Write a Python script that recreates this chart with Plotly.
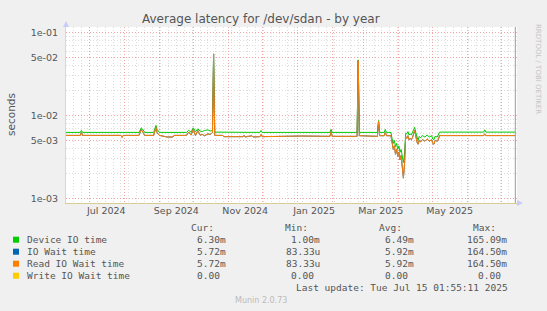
import plotly.graph_objects as go

# ---------------- data ----------------
device_dates = [
    "2024-06-10", "2024-06-23", "2024-06-24", "2024-06-25", "2024-08-14", "2024-08-16",
    "2024-08-17", "2024-08-19", "2024-08-27", "2024-08-29", "2024-08-30", "2024-09-01",
    "2024-09-25", "2024-09-27", "2024-09-29", "2024-10-01", "2024-10-03", "2024-10-05",
    "2024-10-07", "2024-10-09", "2024-10-11", "2024-10-14", "2024-10-16", "2024-10-18",
    "2024-10-19", "2024-10-20", "2024-11-29", "2024-11-30", "2024-12-01", "2025-01-30",
    "2025-01-31", "2025-02-01", "2025-02-23", "2025-02-24", "2025-02-25", "2025-03-13",
    "2025-03-14", "2025-03-15", "2025-03-19", "2025-03-20", "2025-03-21", "2025-03-25",
    "2025-03-26", "2025-03-27", "2025-03-28", "2025-03-29", "2025-03-30", "2025-03-31",
    "2025-04-01", "2025-04-02", "2025-04-03", "2025-04-04", "2025-04-05", "2025-04-06",
    "2025-04-07", "2025-04-08", "2025-04-09", "2025-04-10", "2025-04-11", "2025-04-12",
    "2025-04-13", "2025-04-15", "2025-04-16", "2025-04-17", "2025-04-18", "2025-04-19",
    "2025-04-20", "2025-04-22", "2025-04-24", "2025-04-26", "2025-04-28", "2025-04-30",
    "2025-05-01", "2025-05-02", "2025-05-03", "2025-05-05", "2025-05-06", "2025-05-07",
    "2025-06-15", "2025-06-16", "2025-06-17", "2025-07-13",
]
device_io = [
    6.25e-3, 6.25e-3, 6.6e-3, 6.25e-3, 6.25e-3, 7.1e-3,
    6.9e-3, 6.25e-3, 6.25e-3, 7.6e-3, 6.8e-3, 6.25e-3,
    6.25e-3, 6.6e-3, 6.3e-3, 7.1e-3, 6.4e-3, 6.9e-3,
    6.5e-3, 6.4e-3, 6.6e-3, 6.7e-3, 6.5e-3, 6.6e-3,
    5.5e-2, 6.3e-3, 6.25e-3, 6.6e-3, 6.25e-3, 6.25e-3,
    6.8e-3, 6.25e-3, 6.25e-3, 4.7e-2, 6.25e-3, 6.25e-3,
    8.7e-3, 6.25e-3, 6.25e-3, 6.8e-3, 6.25e-3, 6.25e-3,
    5.2e-3, 4.6e-3, 5.0e-3, 4.2e-3, 4.6e-3, 3.9e-3,
    4.3e-3, 3.6e-3, 3.9e-3, 3.2e-3, 2.7e-3, 3.4e-3,
    6.1e-3, 6.0e-3, 6.4e-3, 5.8e-3, 6.0e-3, 5.8e-3,
    6.2e-3, 7.2e-3, 6.2e-3, 5.3e-3, 5.0e-3, 5.6e-3,
    5.4e-3, 5.7e-3, 5.5e-3, 5.8e-3, 5.5e-3, 5.7e-3,
    5.2e-3, 5.1e-3, 5.6e-3, 5.5e-3, 5.8e-3, 6.3e-3,
    6.3e-3, 6.7e-3, 6.3e-3, 6.3e-3,
]

read_dates = [
    "2024-06-10", "2024-06-23", "2024-06-24", "2024-06-25", "2024-07-29", "2024-07-30",
    "2024-07-31", "2024-08-14", "2024-08-16", "2024-08-17", "2024-08-19", "2024-08-27",
    "2024-08-29", "2024-08-30", "2024-09-01", "2024-09-08", "2024-09-13", "2024-09-14",
    "2024-09-25", "2024-09-27", "2024-09-29", "2024-10-01", "2024-10-03", "2024-10-05",
    "2024-10-07", "2024-10-09", "2024-10-11", "2024-10-14", "2024-10-16", "2024-10-18",
    "2024-10-19", "2024-10-20", "2024-10-27", "2024-10-28", "2024-11-14", "2024-11-15",
    "2024-11-16", "2024-11-22", "2024-11-23", "2024-11-29", "2024-11-30", "2024-12-01",
    "2025-01-05", "2025-01-30", "2025-01-31", "2025-02-01", "2025-02-23", "2025-02-24",
    "2025-02-25", "2025-03-13", "2025-03-14", "2025-03-15", "2025-03-19", "2025-03-20",
    "2025-03-21", "2025-03-25", "2025-03-26", "2025-03-27", "2025-03-28", "2025-03-29",
    "2025-03-30", "2025-03-31", "2025-04-01", "2025-04-02", "2025-04-03", "2025-04-04",
    "2025-04-05", "2025-04-06", "2025-04-07", "2025-04-08", "2025-04-09", "2025-04-10",
    "2025-04-11", "2025-04-12", "2025-04-13", "2025-04-15", "2025-04-16", "2025-04-17",
    "2025-04-18", "2025-04-19", "2025-04-20", "2025-04-22", "2025-04-24", "2025-04-26",
    "2025-04-28", "2025-04-30", "2025-05-01", "2025-05-02", "2025-05-03", "2025-05-05",
    "2025-05-06", "2025-05-07", "2025-06-15", "2025-06-16", "2025-06-17", "2025-07-13",
]
read_io_wait = [
    5.75e-3, 5.75e-3, 6.3e-3, 5.75e-3, 5.75e-3, 5.45e-3,
    5.75e-3, 5.75e-3, 6.8e-3, 6.4e-3, 5.75e-3, 5.75e-3,
    7.2e-3, 6.2e-3, 5.75e-3, 5.5e-3, 5.5e-3, 5.75e-3,
    5.75e-3, 6.3e-3, 5.8e-3, 6.8e-3, 5.7e-3, 6.6e-3,
    5.8e-3, 5.9e-3, 5.7e-3, 6.0e-3, 5.9e-3, 6.2e-3,
    5.55e-2, 5.75e-3, 5.75e-3, 5.55e-3, 5.55e-3, 5.75e-3,
    5.5e-3, 5.7e-3, 5.5e-3, 5.55e-3, 5.9e-3, 5.55e-3,
    5.65e-3, 5.6e-3, 6.4e-3, 5.6e-3, 5.6e-3, 4.6e-2,
    5.7e-3, 5.6e-3, 8.5e-3, 5.7e-3, 5.7e-3, 6.3e-3,
    5.7e-3, 5.7e-3, 4.6e-3, 3.9e-3, 4.3e-3, 3.4e-3,
    3.9e-3, 3.2e-3, 3.6e-3, 2.9e-3, 3.3e-3, 2.4e-3,
    1.75e-3, 2.6e-3, 5.6e-3, 5.3e-3, 5.7e-3, 5.1e-3,
    5.3e-3, 5.1e-3, 5.4e-3, 6.6e-3, 5.4e-3, 4.8e-3,
    4.5e-3, 5.0e-3, 4.8e-3, 5.1e-3, 4.9e-3, 5.2e-3,
    4.9e-3, 5.1e-3, 4.6e-3, 4.5e-3, 5.0e-3, 4.9e-3,
    5.2e-3, 5.72e-3, 5.72e-3, 6.0e-3, 5.72e-3, 5.72e-3,
]
io_wait = list(read_io_wait)          # IO Wait time coincides with Read IO Wait time
write_dates = ["2024-06-10", "2025-07-13"]
write_io_wait = [0.0, 0.0]

series_names = ["Device IO time", "IO Wait time", "Read IO Wait time", "Write IO Wait time"]
series_colors = ["#00CC00", "#0066B3", "#FF8000", "#FFCC00"]
cur_vals = ["6.30m", "5.72m", "5.72m", "0.00 "]
min_vals = ["1.00m", "83.33u", "83.33u", "0.00 "]
avg_vals = ["6.49m", "5.92m", "5.92m", "0.00 "]
max_vals = ["165.09m", "164.50m", "164.50m", "0.00 "]

month_grid = ["2024-07-01", "2024-08-01", "2024-09-01", "2024-10-01", "2024-11-01",
              "2024-12-01", "2025-01-01", "2025-02-01", "2025-03-01", "2025-04-01",
              "2025-05-01", "2025-06-01", "2025-07-01"]
label_pos = ["2024-07-16", "2024-09-16", "2024-11-16", "2025-01-16", "2025-03-16", "2025-05-16"]
label_text = ["Jul 2024", "Sep 2024", "Nov 2024", "Jan 2025", "Mar 2025", "May 2025"]
y_major = [1e-3, 5e-3, 1e-2, 5e-2, 1e-1]
y_major_text = ["1e-03", "5e-03", "1e-02", "5e-02", "1e-01"]
y_minor = [2e-3, 3e-3, 4e-3, 6e-3, 7e-3, 8e-3, 9e-3,
           2e-2, 3e-2, 4e-2, 6e-2, 7e-2, 8e-2, 9e-2]

# ---------------- layout helpers ----------------
W, H = 547, 311
L, R, T, B = 66, 517, 27, 203


def px(x):
    return (x - L) / (R - L)


def py(y):
    return (B - y) / (B - T)


TXT = "#555555"
SANS = "DejaVu Sans"
MONO = "DejaVu Sans Mono"
XRANGE = ["2024-06-10 09:00", "2025-07-14 13:00"]
MAJOR = "rgba(235,130,130,0.7)"
MINOR = "#DDDDDD"

fig = go.Figure()
fig.add_trace(go.Scatter(x=device_dates, y=device_io, mode="lines", name=series_names[0],
                         line=dict(color=series_colors[0], width=1)))
fig.add_trace(go.Scatter(x=read_dates, y=io_wait, mode="lines", name=series_names[1],
                         line=dict(color=series_colors[1], width=1)))
fig.add_trace(go.Scatter(x=read_dates, y=read_io_wait, mode="lines", name=series_names[2],
                         line=dict(color=series_colors[2], width=1)))
fig.add_trace(go.Scatter(x=write_dates, y=write_io_wait, mode="lines", name=series_names[3],
                         line=dict(color=series_colors[3], width=1), xaxis="x2"))

fig.update_layout(
    width=W, height=H,
    margin=dict(l=L, r=W - R, t=T, b=H - B, pad=0),
    paper_bgcolor="#F0F0F0", plot_bgcolor="#FFFFFF",
    showlegend=False,
    font=dict(family=SANS, size=10, color=TXT),
    xaxis=dict(
        type="date", range=XRANGE,
        tickmode="array", tickvals=month_grid, ticktext=[""] * len(month_grid),
        ticks="", showticklabels=False,
        showgrid=True, gridcolor=MAJOR, griddash="1px,2px", gridwidth=1,
        showline=True, linecolor="#D8CC90", linewidth=1,
        minor=dict(showgrid=True, tick0="2024-06-10", dtick=7 * 86400000,
                   gridcolor=MINOR, griddash="1px,2px", gridwidth=1),
        zeroline=False,
    ),
    xaxis2=dict(
        type="date", range=XRANGE, overlaying="x", anchor="y", side="bottom",
        tickmode="array", tickvals=label_pos, ticktext=label_text,
        ticks="", showgrid=False, showline=False, zeroline=False,
        tickfont=dict(family=SANS, size=9.5, color=TXT),
    ),
    yaxis=dict(
        type="log", range=[-3.0568, -0.9312],
        tickmode="array", tickvals=y_major, ticktext=y_major_text,
        ticks="", ticklabelstandoff=5,
        tickfont=dict(family=SANS, size=9.5, color=TXT),
        showgrid=True, gridcolor=MAJOR, griddash="1px,2px", gridwidth=1,
        showline=True, linecolor="#D0D4F4", linewidth=1,
        minor=dict(showgrid=True, tickmode="array", tickvals=y_minor,
                   gridcolor=MINOR, griddash="1px,2px", gridwidth=1),
        zeroline=False,
    ),
)

ann = []
ann.append(dict(text="Average latency for /dev/sdan - by year", x=px(261), y=py(19),
                xanchor="center", yanchor="middle", font=dict(size=12, color=TXT)))
ann.append(dict(text="seconds", x=px(11), y=py(115), textangle=-90,
                xanchor="center", yanchor="middle", font=dict(size=10.5, color=TXT)))
ann.append(dict(text="RRDTOOL / TOBI OETIKER", x=px(538), y=py(22), textangle=90,
                xanchor="center", yanchor="top", font=dict(size=7, color="#C4C4C4")))

# legend header
for hdr, xr in zip(["Cur:", "Min:", "Avg:", "Max:"], [215.5, 309.5, 403.5, 497.5]):
    ann.append(dict(text=hdr, x=px(xr), y=py(227.7), xanchor="right", yanchor="middle",
                    font=dict(family=MONO, size=9.5, color=TXT)))

row_y = [239.7, 251.7, 263.7, 275.7]
col_right = [227.7, 322.0, 415.7, 509.0]
shapes = []
for i, name in enumerate(series_names):
    ann.append(dict(text=name, x=px(25), y=py(row_y[i]), xanchor="left", yanchor="middle",
                    font=dict(family=MONO, size=9.5, color=TXT)))
    for vals, xr in zip([cur_vals, min_vals, avg_vals, max_vals], col_right):
        v = vals[i]
        xx = xr - 5.7 if v.endswith(" ") else xr
        ann.append(dict(text=v.strip(), x=px(xx), y=py(row_y[i]), xanchor="right",
                        yanchor="middle", font=dict(family=MONO, size=9.5, color=TXT)))
    shapes.append(dict(type="rect", xref="paper", yref="paper",
                       x0=px(13), x1=px(19), y0=py(row_y[i] - 3), y1=py(row_y[i] + 3),
                       fillcolor=series_colors[i], line=dict(width=0)))

ann.append(dict(text="Last update: Tue Jul 15 01:55:11 2025", x=px(509.5), y=py(287.7),
                xanchor="right", yanchor="middle", font=dict(family=MONO, size=9.5, color=TXT)))
ann.append(dict(text="Munin 2.0.73", x=px(260.7), y=py(300), xanchor="center", yanchor="middle",
                font=dict(size=8, color="#BBBBBB")))

for a in ann:
    a.update(xref="paper", yref="paper", showarrow=False)

# axis arrows and right edge line
shapes.append(dict(type="path", xref="paper", yref="paper",
                   path=f"M {px(63)} {py(27)} L {px(69)} {py(27)} L {px(66)} {py(21)} Z",
                   fillcolor="#C8CCF8", line=dict(width=0)))
shapes.append(dict(type="path", xref="paper", yref="paper",
                   path=f"M {px(517)} {py(200)} L {px(517)} {py(206)} L {px(523)} {py(203)} Z",
                   fillcolor="#C8CCF8", line=dict(width=0)))
shapes.append(dict(type="line", xref="paper", yref="paper", x0=px(515.3), x1=px(515.3),
                   y0=py(203), y1=py(27), line=dict(color="#999999", width=1)))

fig.update_layout(annotations=ann, shapes=shapes)
fig.write_html("out.html")
